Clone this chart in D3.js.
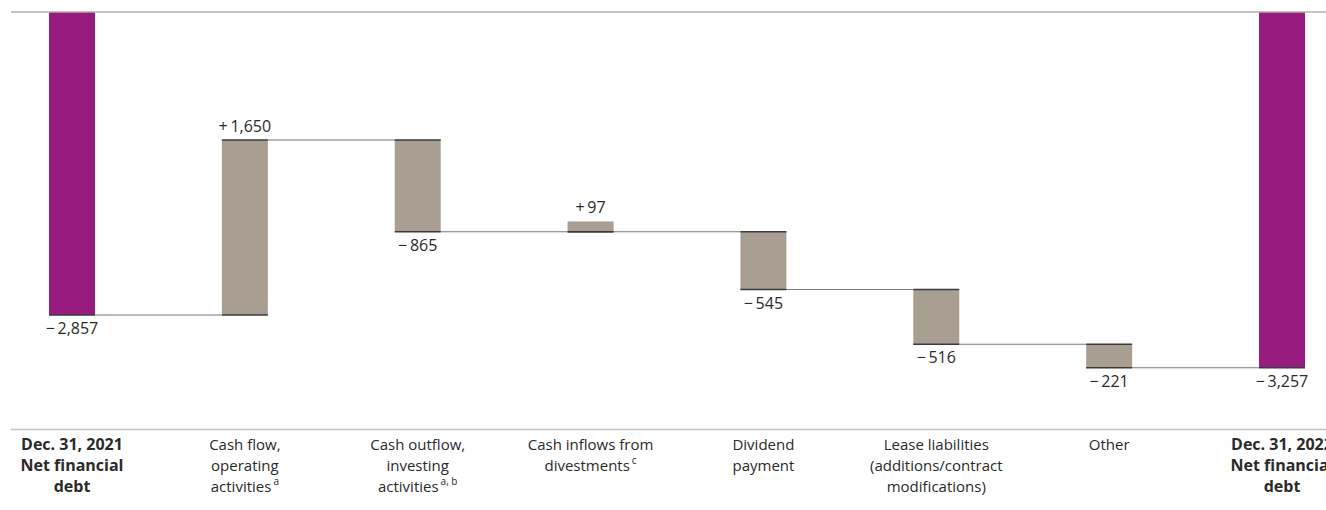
<!DOCTYPE html>
<html>
<head>
<meta charset="utf-8">
<script src="https://cdn.jsdelivr.net/npm/d3@7"></script>
<style>
  html, body { margin: 0; padding: 0; background: #fff; }
  svg { display: block; }
  text { font-family: "Open Sans", "Noto Sans", sans-serif; fill: #2b2b2b; }
</style>
</head>
<body>
<svg id="chart" width="1326" height="510"></svg>
<script>
// ---- data ----
const categories = ["start", "opcf", "invest", "divest", "dividend", "lease", "other", "end"];
const values = [-2857, 1650, -865, 97, -545, -516, -221, -3257];
const kinds = ["total", "delta", "delta", "delta", "delta", "delta", "delta", "total"];
const valueLabels = ["\u2212\u20092,857", "+\u20091,650", "\u2212\u2009865", "+\u200997", "\u2212\u2009545", "\u2212\u2009516", "\u2212\u2009221", "\u2212\u20093,257"];
// as in the source graphic, the divestment bar sits on the running level without moving it
const movesLevel = [true, true, true, false, true, true, true, true];
const labelLines = [
  ["Dec. 31, 2021", "Net financial", "debt"],
  ["Cash flow,", "operating", "activities"],
  ["Cash outflow,", "investing", "activities"],
  ["Cash inflows from", "divestments"],
  ["Dividend", "payment"],
  ["Lease liabilities", "(additions/contract", "modifications)"],
  ["Other"],
  ["Dec. 31, 2022", "Net financial", "debt"]
];
const labelSup = ["", "a", "a, b", "c", "", "", "", ""];

// ---- layout ----
const svg = d3.select("#chart");
const W = 1326;
const y = d3.scaleLinear().domain([0, -2857]).range([12, 315]);
const x = d3.scalePoint().domain(categories).range([72, 1282]);
const bw = x.step() * 0.266;

// compute bars
let level = 0;
const bars = categories.map((c, i) => {
  let y0, y1, end;
  if (kinds[i] === "total") {
    if (i === 0) { level = values[i]; }
    y0 = 0; y1 = level; end = level;
  } else {
    y0 = level; y1 = level + values[i];
    end = movesLevel[i] ? y1 : level;
    level = end;
  }
  return { c, i, y0, y1, end, kind: kinds[i], v: values[i] };
});

// bottom rule
svg.append("line").attr("x1", 11).attr("x2", W).attr("y1", 429.5).attr("y2", 429.5)
  .attr("stroke", "#c9c3bb").attr("stroke-width", 1.5);

// bars
svg.append("g").selectAll("rect").data(bars).join("rect")
  .attr("x", d => x(d.c) - bw / 2)
  .attr("width", bw)
  .attr("y", d => Math.min(y(d.y0), y(d.y1)))
  .attr("height", d => Math.abs(y(d.y1) - y(d.y0)))
  .attr("fill", d => d.kind === "total" ? "#981b7f" : "#a89e92");

// top baseline over total bars
svg.append("line").attr("x1", 11).attr("x2", W).attr("y1", y(0)).attr("y2", y(0))
  .attr("stroke", "#b7aea3").attr("stroke-width", 1.5);

// connectors
const conn = svg.append("g");
for (let i = 0; i < bars.length - 1; i++) {
  const a = bars[i], b = bars[i + 1];
  const yy = y(a.end);
  conn.append("line")
    .attr("x1", x(a.c) + bw / 2).attr("x2", x(b.c) - bw / 2)
    .attr("y1", yy).attr("y2", yy)
    .attr("stroke", "#7a7a7a").attr("stroke-width", 1.1);
  [a, b].forEach(d => {
    conn.append("line")
      .attr("x1", x(d.c) - bw / 2).attr("x2", x(d.c) + bw / 2)
      .attr("y1", yy).attr("y2", yy)
      .attr("stroke", "#3a3a3a").attr("stroke-width", 1.4);
  });
}

// value labels
svg.append("g").selectAll("text").data(bars).join("text")
  .attr("x", d => x(d.c))
  .attr("y", d => {
    if (d.kind === "total") return y(d.y1) + 19;
    return d.v > 0 ? y(d.y1) - 8 : y(d.y1) + 19;
  })
  .attr("text-anchor", "middle")
  .style("font-size", "16px")
  .text((d, i) => valueLabels[i]);

// category labels
const catG = svg.append("g");
categories.forEach((c, i) => {
  const isTotal = kinds[i] === "total";
  const t = catG.append("text")
    .attr("x", x(c)).attr("y", 450)
    .attr("text-anchor", "middle")
    .style("font-size", isTotal ? "16px" : "15px")
    .style("font-weight", isTotal ? "700" : "400");
  labelLines[i].forEach((ln, j) => {
    t.append("tspan").attr("x", x(c)).attr("dy", j === 0 ? 0 : 21).text(ln);
  });
  if (labelSup[i]) {
    t.append("tspan").attr("dx", 2).attr("dy", -7).style("font-size", "10px").text(labelSup[i]);
  }
});
</script>
</body>
</html>
